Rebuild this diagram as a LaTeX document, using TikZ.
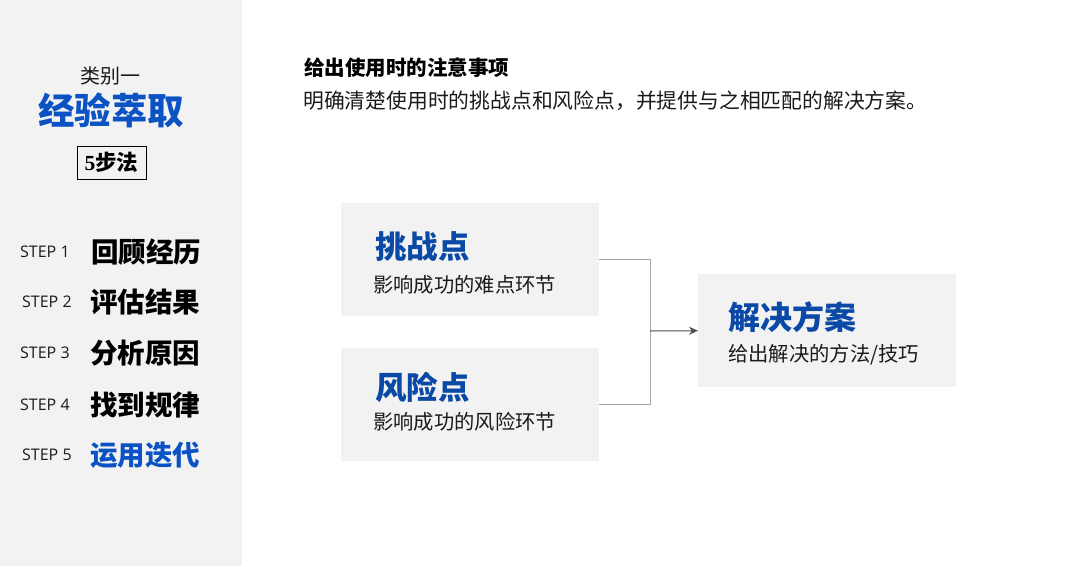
\documentclass[tikz,border=0pt]{standalone}
\usepackage{fontspec}
\setmainfont{Noto Sans CJK SC}
\newfontfamily\cjk{Noto Sans CJK SC}
\newfontfamily\stepfont{Open Sans}
\newfontfamily\serifnum{Liberation Serif}
\usetikzlibrary{arrows.meta}
\definecolor{panel}{HTML}{F2F2F2}
\definecolor{mblue}{HTML}{0B52C4}
\definecolor{dblue}{HTML}{0A4AA6}
\definecolor{lgray}{HTML}{A6A6A6}
\definecolor{agray}{HTML}{505050}
\definecolor{tblack}{HTML}{1A1A1A}
\tikzset{
  fs/.style={font=\cjk\fontsize{#1}{#1}\selectfont},
  lefttext/.style={anchor=west, inner sep=0pt},
  steplabel/.style={anchor=west, inner sep=0pt, text=tblack, font=\stepfont\fontsize{16}{16}\selectfont},
  stepname/.style={anchor=west, inner sep=0pt, text=black, font=\cjk\bfseries\fontsize{27.5}{27.5}\selectfont},
  cardbox/.style={fill=panel, draw=none, minimum width=258, minimum height=113, anchor=north west, inner sep=0pt},
  cardtitle/.style={anchor=west, inner sep=0pt, text=dblue, font=\cjk\bfseries\fontsize{31.5}{31.5}\selectfont},
  cardsub/.style={anchor=west, inner sep=0pt, text=tblack, font=\cjk\fontsize{20.3}{20.3}\selectfont},
  conn/.style={draw=lgray, line width=0.9pt},
}
\begin{document}
\begin{tikzpicture}[x=1pt,y=-1pt]
\useasboundingbox (0,0) rectangle (1080,566);
\fill[white] (0,0) rectangle (1080,566);
\fill[panel] (0,0) rectangle (242,566);

% left panel
\node[inner sep=0pt, text=tblack, fs=20] (cat) at (110,76) {类别一};
\node[inner sep=0pt, text=mblue, font=\cjk\bfseries\fontsize{36.5}{36.5}\selectfont] (main) at (111,110) {经验萃取};
\node[draw=black, line width=0.8pt, minimum width=69, minimum height=33, inner sep=0pt,
      font=\bfseries\fontsize{21.5}{21.5}\selectfont] (five) at (111.5,162.5) {\serifnum\bfseries 5\cjk 步法};

\node[steplabel] (s1) at (20,252) {STEP 1};
\node[stepname] (n1) at (91,252) {回顾经历};
\node[steplabel] (s2) at (22,302) {STEP 2};
\node[stepname] (n2) at (90,302) {评估结果};
\node[steplabel] (s3) at (20,353) {STEP 3};
\node[stepname] (n3) at (90,353) {分析原因};
\node[steplabel] (s4) at (20,405) {STEP 4};
\node[stepname] (n4) at (90,405) {找到规律};
\node[steplabel] (s5) at (22,455) {STEP 5};
\node[stepname, text=mblue] (n5) at (90,455) {运用迭代};

% header
\node[lefttext, text=black, font=\cjk\bfseries\fontsize{20.5}{20.5}\selectfont] (h1) at (304,68) {给出使用时的注意事项};
\node[lefttext, text=tblack, fs=20.8] (h2) at (303,101) {明确清楚使用时的挑战点和风险点，并提供与之相匹配的解决方案。};

% cards
\node[cardbox] (b1) at (341,203) {};
\node[cardbox] (b2) at (341,348) {};
\node[cardbox] (b3) at (698,274) {};

\node[cardtitle] (t1) at (375,247) {挑战点};
\node[cardsub] (u1) at (373,285) {影响成功的难点环节};
\node[cardtitle] (t2) at (375,387) {风险点};
\node[cardsub] (u2) at (373,422) {影响成功的风险环节};
\node[cardtitle, font=\cjk\bfseries\fontsize{32}{32}\selectfont] (t3) at (728,317) {解决方案};
\node[cardsub] (u3) at (728,355) {给出解决的方法/技巧};

% connectors
\coordinate (j) at (650,331);
\draw[conn] (b1.east) -| (j);
\draw[conn] (b2.east) -| (j);
\draw[draw=agray, line width=1pt, -{Stealth[length=9pt,width=8pt]}] (j) -- (b3.west);
\end{tikzpicture}
\end{document}
